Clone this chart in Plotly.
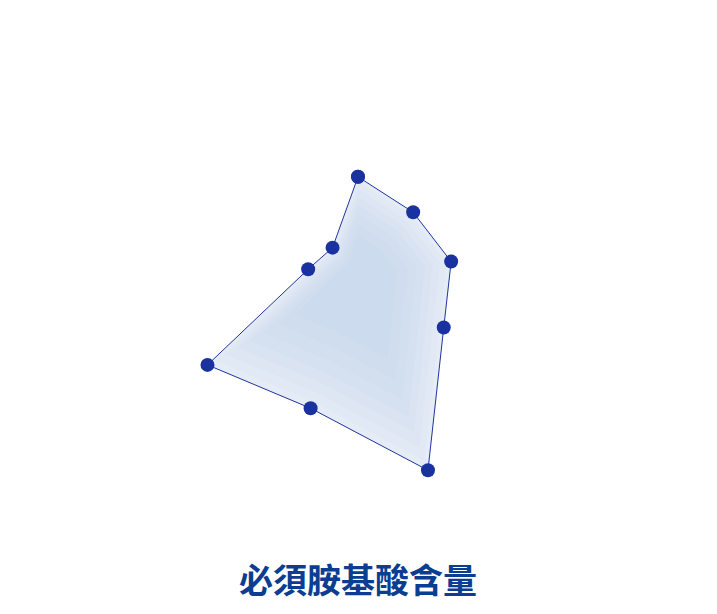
import plotly.graph_objects as go

# 必須胺基酸（九種）
amino_acids = ['組胺酸', '異白胺酸', '白胺酸', '離胺酸', '甲硫胺酸',
               '苯丙胺酸', '蘇胺酸', '色胺酸', '纈胺酸']
content = [46, 39, 43, 45, 93, 63, 79, 23, 18]

W, H = 717, 614
cx, cy, R = 350, 270, 220  # 極座標中心與半徑 (px)

fig = go.Figure()

theta = amino_acids + amino_acids[:1]
r = content + content[:1]

# 底色
fig.add_trace(go.Scatterpolar(
    r=r, theta=theta, mode='lines', fill='toself',
    fillcolor='rgb(230,236,246)', line=dict(width=0),
    hoverinfo='skip', showlegend=False
))

# 模擬中心較深的漸層
for k in [0.95, 0.88, 0.8, 0.72, 0.63, 0.53, 0.42]:
    fig.add_trace(go.Scatterpolar(
        r=[v * k for v in r], theta=theta, mode='lines', fill='toself',
        fillcolor='rgba(178,200,226,0.075)', line=dict(width=0),
        hoverinfo='skip', showlegend=False
    ))

# 外框與資料點
fig.add_trace(go.Scatterpolar(
    r=r, theta=theta, mode='lines+markers',
    line=dict(color='#1c34a0', width=1),
    marker=dict(color='#1a32a0', size=14),
    showlegend=False
))

fig.update_layout(
    width=W, height=H,
    margin=dict(l=0, r=0, t=0, b=0),
    paper_bgcolor='white',
    polar=dict(
        domain=dict(x=[(cx - R) / W, (cx + R) / W],
                    y=[(H - cy - R) / H, (H - cy + R) / H]),
        bgcolor='rgba(0,0,0,0)',
        radialaxis=dict(range=[0, 100], visible=False),
        angularaxis=dict(rotation=90, direction='clockwise', visible=False),
    ),
    annotations=[dict(
        text='<b>必須胺基酸含量</b>', x=350 / W, y=(H - 570) / H,
        xref='paper', yref='paper', showarrow=False,
        xanchor='center', yanchor='middle',
        font=dict(family='Noto Sans CJK TC', size=34, color='#0b3d91')
    )]
)

fig.write_html("out.html")
